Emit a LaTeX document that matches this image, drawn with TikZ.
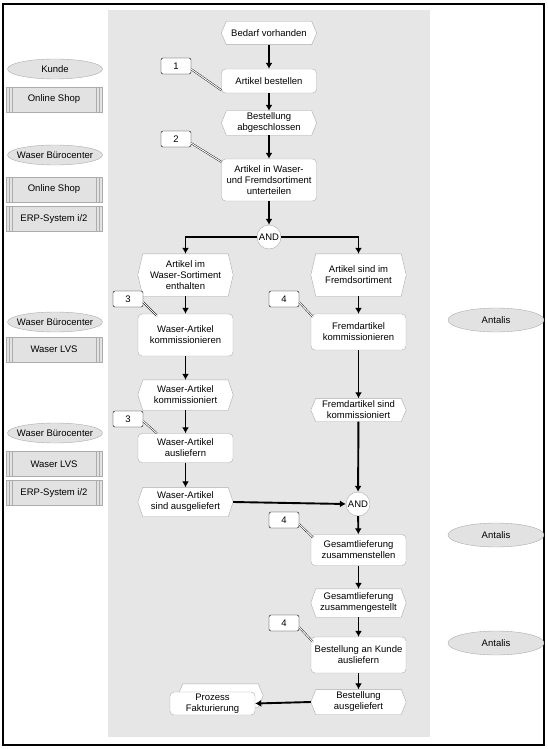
\documentclass[tikz,border=0pt]{standalone}
\usepackage{fontspec}
\setmainfont{Liberation Sans}
\usetikzlibrary{shapes.geometric,arrows.meta}
\pgfdeclarelayer{back}
\pgfdeclarelayer{evlayer}
\pgfsetlayers{back,evlayer,main}
\definecolor{panel}{RGB}{230,230,230}
\definecolor{edge}{RGB}{172,172,172}
\definecolor{orgfill}{RGB}{226,226,226}
\newcommand{\evframe}[1]{%
\begin{pgfonlayer}{evlayer}
\draw[evline]([xshift=5pt]#1.north west)--([xshift=-5pt]#1.north east)--(#1.east)--([xshift=-5pt]#1.south east)--([xshift=5pt]#1.south west)--(#1.west)--cycle;
\end{pgfonlayer}}
\begin{document}
\begin{tikzpicture}[x=1pt,y=-1pt,font=\fontsize{9.5}{11}\selectfont,
fn/.style={draw=edge,fill=white,rounded corners=4pt,minimum width=95pt,align=center,inner sep=0pt},
ev/.style={minimum width=95pt,align=center,inner sep=0pt},
evline/.style={draw=edge,fill=white},
num/.style={draw,fill=white,rounded corners=2pt,minimum width=30pt,minimum height=16pt,inner sep=0pt},
conn/.style={circle,draw=edge,fill=white,minimum size=24pt,inner sep=0pt},
org/.style={ellipse,draw=edge,fill=orgfill,minimum width=95pt,minimum height=20pt,inner xsep=-5pt,inner ysep=0pt},
sys/.style={draw=edge,fill=orgfill,minimum width=96pt,minimum height=25pt,inner sep=0pt,
  path picture={\draw[edge]([xshift=3pt]path picture bounding box.north west)--([xshift=3pt]path picture bounding box.south west)
  ([xshift=6pt]path picture bounding box.north west)--([xshift=6pt]path picture bounding box.south west)
  ([xshift=-3pt]path picture bounding box.north east)--([xshift=-3pt]path picture bounding box.south east)
  ([xshift=-6pt]path picture bounding box.north east)--([xshift=-6pt]path picture bounding box.south east);}},
flow/.style={line width=1.9pt,-{Latex[length=6pt,width=7pt]}},
callout/.style={draw=black,double=white,double distance=1pt,line width=0.4pt}]
\useasboundingbox(0,0) rectangle (547,749);
\begin{pgfonlayer}{back}
\fill[panel](108,10) rectangle (430,737);
\end{pgfonlayer}
\draw[line width=2pt](3,4) rectangle (543.5,744.5);
% organisation and systems
\node[org] (o1) at (55,69){Kunde};
\node[sys] (s1) at (54,99.5){Online Shop};
\node[org] (o2) at (55,155){Waser Bürocenter};
\node[sys] (s2) at (54,189.5){Online Shop};
\node[sys] (s3) at (54,219){ERP-System i/2};
\node[org] (o3) at (55,322){Waser Bürocenter};
\node[sys] (s4) at (54,349.5){Waser LVS};
\node[org] (o4) at (55,433){Waser Bürocenter};
\node[sys] (s5) at (54,464){Waser LVS};
\node[sys] (s6) at (54,493){ERP-System i/2};
\node[org,minimum width=96pt,minimum height=24pt] (o5) at (496,320){Antalis};
\node[org,minimum width=96pt,minimum height=24pt] (o6) at (496,535){Antalis};
\node[org,minimum width=96pt,minimum height=24pt] (o7) at (496,643){Antalis};
% main column
\node[ev,minimum height=23pt] (e1) at (269,33){Bedarf vorhanden};\evframe{e1}
\node[fn,minimum height=24pt] (f1) at (269,81){Artikel bestellen};
\node[ev,minimum height=24pt] (e2) at (269,123){Bestellung\\abgeschlossen};\evframe{e2}
\node[fn,minimum height=42pt] (f2) at (269,180){Artikel in Waser-\\und Fremdsortiment\\unterteilen};
\node[conn] (and1) at (269,237){AND};
% left column
\node[ev,minimum height=42pt] (e3) at (185.5,275){Artikel im\\Waser-Sortiment\\enthalten};\evframe{e3}
\node[fn,minimum height=42pt] (f3) at (185.5,335){Waser-Artikel\\kommissionieren};
\node[ev,minimum height=30pt] (e4) at (185.5,395){Waser-Artikel\\kommissioniert};\evframe{e4}
\node[fn,minimum height=29pt] (f4) at (185.5,448){Waser-Artikel\\ausliefern};
\node[ev,minimum height=29pt] (e5) at (185.5,502){Waser-Artikel\\sind ausgeliefert};\evframe{e5}
% right column
\node[ev,minimum height=42pt] (e6) at (358.5,275){Artikel sind im\\Fremdsortiment};\evframe{e6}
\node[fn,minimum height=36pt] (f5) at (358.5,332){Fremdartikel\\kommissionieren};
\node[ev,minimum height=23pt] (e7) at (358.5,410){Fremdartikel sind\\kommissioniert};\evframe{e7}
\node[conn] (and2) at (358,504){AND};
\node[fn,minimum height=31pt] (f6) at (358.5,550){Gesamtlieferung\\zusammenstellen};
\node[ev,minimum height=28pt] (e8) at (358.5,603){Gesamtlieferung\\zusammengestellt};\evframe{e8}
\node[fn,minimum height=36pt] (f7) at (358.5,655){Bestellung an Kunde\\ausliefern};
\node[ev,minimum height=25pt] (e9) at (358.5,702){Bestellung\\ausgeliefert};\evframe{e9}
\node[fn,minimum width=85pt,minimum height=23pt] (p1) at (212.5,703.5){Prozess\\Fakturierung};
\begin{pgfonlayer}{evlayer}
\draw[evline]([xshift=13pt,yshift=8pt]p1.north west)--([xshift=3pt,yshift=8pt]p1.north east)--([xshift=8pt,yshift=8pt]p1.east)--([xshift=3pt,yshift=8pt]p1.south east)--([xshift=13pt,yshift=8pt]p1.south west)--([xshift=8pt,yshift=8pt]p1.west)--cycle;
\end{pgfonlayer}
% numbers
\node[num] (n1) at (176,66){1};
\node[num] (n2) at (176,139){2};
\node[num] (n3) at (128,299){3};
\node[num] (n4) at (284,299){4};
\node[num] (n5) at (128,419){3};
\node[num] (n6) at (284,520){4};
\node[num] (n7) at (284,623){4};
\draw[callout]([yshift=5pt]n1.south east)--([yshift=3pt]f1.south west);
\draw[callout]([yshift=4pt]n2.south east)--([yshift=-3pt]f2.north west);
\draw[callout]([yshift=5pt]n3.south east)--([xshift=19pt,yshift=-2pt]f3.north west);
\draw[callout]([yshift=5pt]n4.south east)--([xshift=2pt,yshift=-3pt]f5.north west);
\draw[callout]([yshift=6pt]n5.south east)--([xshift=19pt]f4.north west);
\draw[callout]([yshift=4pt]n6.south east)--([xshift=2pt,yshift=-3pt]f6.north west);
\draw[callout]([yshift=4pt]n7.south east)--([xshift=2pt,yshift=-5pt]f7.north west);
% flow
\draw[flow](e1)--(f1);
\draw[flow](f1)--(e2);
\draw[flow](e2)--(f2);
\draw[flow](f2)--(and1);
\draw[flow](and1.west)-|(e3.north);
\draw[flow](and1.east)-|(e6.north);
\draw[flow](e3)--(f3);
\draw[flow](f3)--(e4);
\draw[flow](e4)--(f4);
\draw[flow](f4)--(e5);
\draw[flow](e6)--(f5);
\draw[flow](f5)--(e7);
\draw[flow](e7)--(and2);
\draw[flow](e5.east)--(and2.west);
\draw[flow](and2)--(f6);
\draw[flow](f6)--(e8);
\draw[flow](e8)--(f7);
\draw[flow](f7)--(e9);
\draw[flow](e9.west)--(p1.east);
\end{tikzpicture}
\end{document}
